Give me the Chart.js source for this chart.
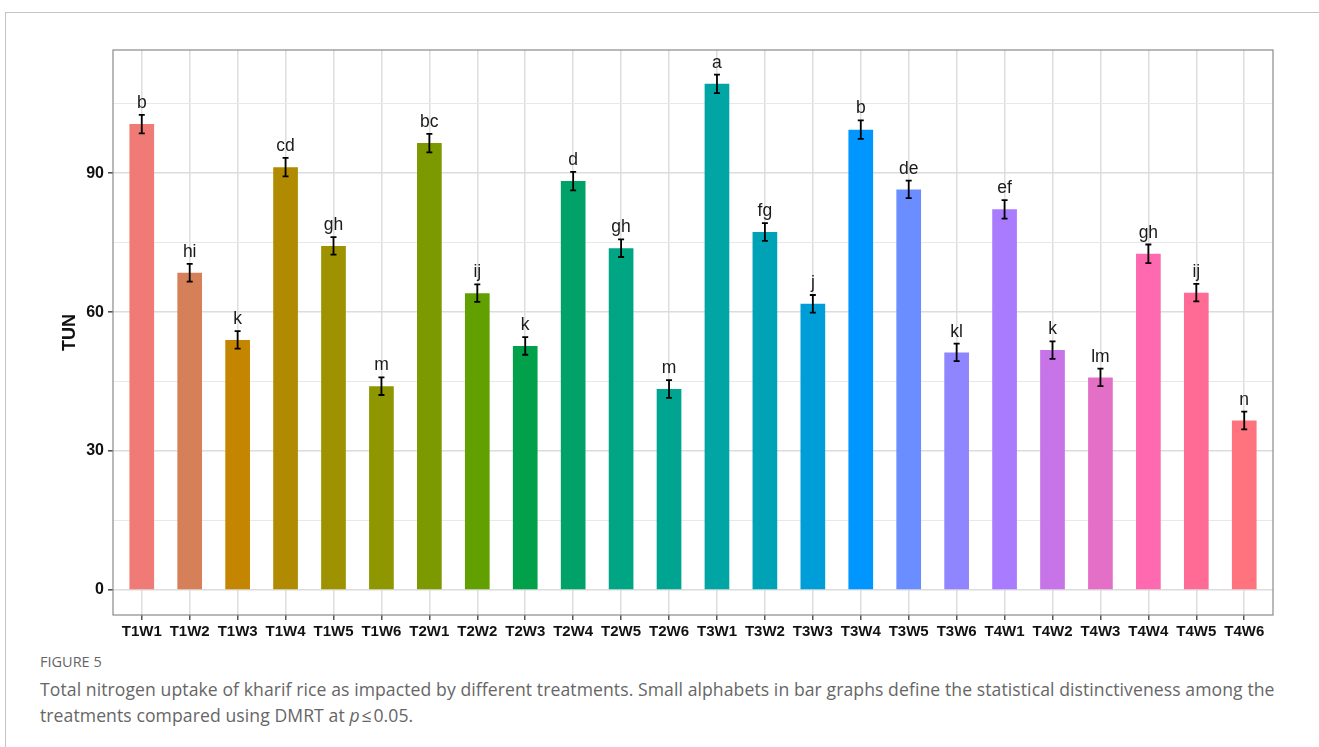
<!DOCTYPE html>
<html>
<head>
<meta charset="utf-8">
<script src="https://cdn.jsdelivr.net/npm/chart.js@4.4.1/dist/chart.umd.min.js"></script>
<style>
  html, body { margin: 0; padding: 0; background: #ffffff; width: 1319px; height: 747px; overflow: hidden; }
  #frame { position: absolute; left: 5px; top: 12px; width: 1400px; height: 800px;
           border-left: 1px solid #c4c4c4; border-top: 1px solid #c4c4c4; }
  #wrap { position: absolute; left: 0; top: 0; }
  .cap { position: absolute; left: 40px; font-family: "Open Sans", sans-serif; color: #666666; white-space: nowrap; }
  #figno { top: 652px; font-size: 14.5px; }
  #c1 { top: 677px; font-size: 17.6px; letter-spacing: 0.08px; }
  #c2 { top: 703px; font-size: 17.6px; letter-spacing: 0.08px; }
</style>
</head>
<body>
<div id="frame"></div>
<div id="wrap"><canvas id="chart" width="1319" height="645"></canvas></div>
<div class="cap" id="figno">FIGURE 5</div>
<div class="cap" id="c1">Total nitrogen uptake of kharif rice as impacted by different treatments. Small alphabets in bar graphs define the statistical distinctiveness among the</div>
<div class="cap" id="c2">treatments compared using DMRT at <i>p</i>&#8202;≤&#8202;0.05.</div>

<script>
// Treatment combinations (T = treatment, W = weed management)
const categories = [
  'T1W1','T1W2','T1W3','T1W4','T1W5','T1W6',
  'T2W1','T2W2','T2W3','T2W4','T2W5','T2W6',
  'T3W1','T3W2','T3W3','T3W4','T3W5','T3W6',
  'T4W1','T4W2','T4W3','T4W4','T4W5','T4W6'
];

// Total nitrogen uptake (TUN) means
const tunValues = [
  100.6, 68.5, 54.0, 91.3, 74.3, 44.0,
  96.5, 64.1, 52.7, 88.3, 73.8, 43.4,
  109.3, 77.3, 61.8, 99.4, 86.5, 51.3,
  82.2, 51.8, 45.9, 72.6, 64.2, 36.6
];

// Standard error of each mean
const tunErrors = [
  2.0, 1.9, 1.9, 2.0, 1.9, 1.9,
  2.0, 1.9, 1.9, 2.0, 1.9, 1.9,
  2.0, 1.9, 1.9, 2.0, 1.9, 1.9,
  2.0, 1.9, 1.9, 2.0, 1.9, 1.9
];

// DMRT groupings (p <= 0.05)
const dmrtLetters = [
  'b','hi','k','cd','gh','m',
  'bc','ij','k','d','gh','m',
  'a','fg','j','b','de','kl',
  'ef','k','lm','gh','ij','n'
];

// Axis ticks
const yGridValues = [0, 15, 30, 45, 60, 75, 90, 105];
const yLabelValues = [0, 30, 60, 90];

// Bar fill palette
const barColors = [
  '#F07B76','#D6805A','#C48500','#B08A00','#9E9200','#8E9600',
  '#7C9A00','#61A000','#00A14A','#00A26A','#00A584','#00A592',
  '#00A5A4','#00A2B5','#009ED8','#0096FF','#6A8EFF','#8F85FF',
  '#A97CFF','#C674E8','#E46FC6','#FF69AF','#FF6B95','#FF737F'
];

const FONT = '"Liberation Sans", Arial, Helvetica, sans-serif';

const overlay = {
  id: 'overlay',
  afterDatasetsDraw(chart) {
    const ctx = chart.ctx;
    const xs = chart.scales.x, ys = chart.scales.y;
    const area = chart.chartArea;
    ctx.save();
    // error bars
    ctx.strokeStyle = '#000000';
    ctx.lineWidth = 1.8;
    tunValues.forEach((v, i) => {
      const x = xs.getPixelForValue(i);
      const yTop = ys.getPixelForValue(v + tunErrors[i]);
      const yBot = ys.getPixelForValue(v - tunErrors[i]);
      ctx.beginPath();
      ctx.moveTo(x, yTop); ctx.lineTo(x, yBot);
      ctx.moveTo(x - 3, yTop); ctx.lineTo(x + 3, yTop);
      ctx.moveTo(x - 3, yBot); ctx.lineTo(x + 3, yBot);
      ctx.stroke();
    });
    // DMRT letters
    ctx.fillStyle = '#1a1a1a';
    ctx.font = '17.5px ' + FONT;
    ctx.textAlign = 'center';
    ctx.textBaseline = 'alphabetic';
    tunValues.forEach((v, i) => {
      const x = xs.getPixelForValue(i);
      const yTop = ys.getPixelForValue(v + tunErrors[i]);
      ctx.fillText(dmrtLetters[i], x, yTop - 7);
    });
    // panel border
    ctx.strokeStyle = '#8a8a8a';
    ctx.lineWidth = 1.2;
    ctx.strokeRect(area.left, area.top, area.right - area.left, area.bottom - area.top);
    // y axis title
    ctx.translate(70, (area.top + area.bottom) / 2);
    ctx.rotate(-Math.PI / 2);
    ctx.fillStyle = '#111111';
    ctx.font = 'bold 18px ' + FONT;
    ctx.textBaseline = 'middle';
    ctx.fillText('TUN', 0, 0);
    ctx.restore();
  }
};

new Chart(document.getElementById('chart'), {
  type: 'bar',
  data: {
    datasets: [{
      data: tunValues.map((v, i) => ({ x: i, y: v })),
      backgroundColor: barColors,
      borderWidth: 0,
      barPercentage: 0.515,
      categoryPercentage: 1.0
    }]
  },
  options: {
    responsive: false,
    devicePixelRatio: 1,
    animation: false,
    layout: { padding: { left: 0, top: 50, right: 46, bottom: 0 } },
    plugins: { legend: { display: false }, tooltip: { enabled: false } },
    scales: {
      x: {
        type: 'linear',
        min: -0.6,
        max: 23.6,
        offset: false,
        afterBuildTicks: s => { s.ticks = categories.map((c, i) => ({ value: i })); },
        afterFit: s => { s.height = 30; },
        border: { display: false },
        grid: {
          offset: false,
          color: '#dedede',
          lineWidth: 1.5,
          tickLength: 5,
          tickColor: '#555555'
        },
        ticks: {
          autoSkip: false,
          maxRotation: 0,
          padding: 3,
          color: '#111111',
          font: { family: FONT, size: 15, weight: 'bold' },
          callback: v => categories[v]
        }
      },
      y: {
        min: -5.4,
        max: 116.6,
        afterBuildTicks: s => { s.ticks = yGridValues.map(v => ({ value: v })); },
        afterFit: s => { s.width = 113; },
        border: { display: false },
        grid: {
          color: c => yLabelValues.includes(c.tick.value) ? '#dcdcdc' : '#e8e8e8',
          lineWidth: c => yLabelValues.includes(c.tick.value) ? 1.6 : 1.0,
          tickLength: 5,
          tickColor: c => yLabelValues.includes(c.tick.value) ? '#555555' : 'rgba(0,0,0,0)'
        },
        ticks: {
          padding: 4,
          color: '#111111',
          font: { family: FONT, size: 16, weight: 'bold' },
          callback: v => yLabelValues.includes(v) ? String(v) : ''
        }
      }
    }
  },
  plugins: [overlay]
});
</script>
</body>
</html>
